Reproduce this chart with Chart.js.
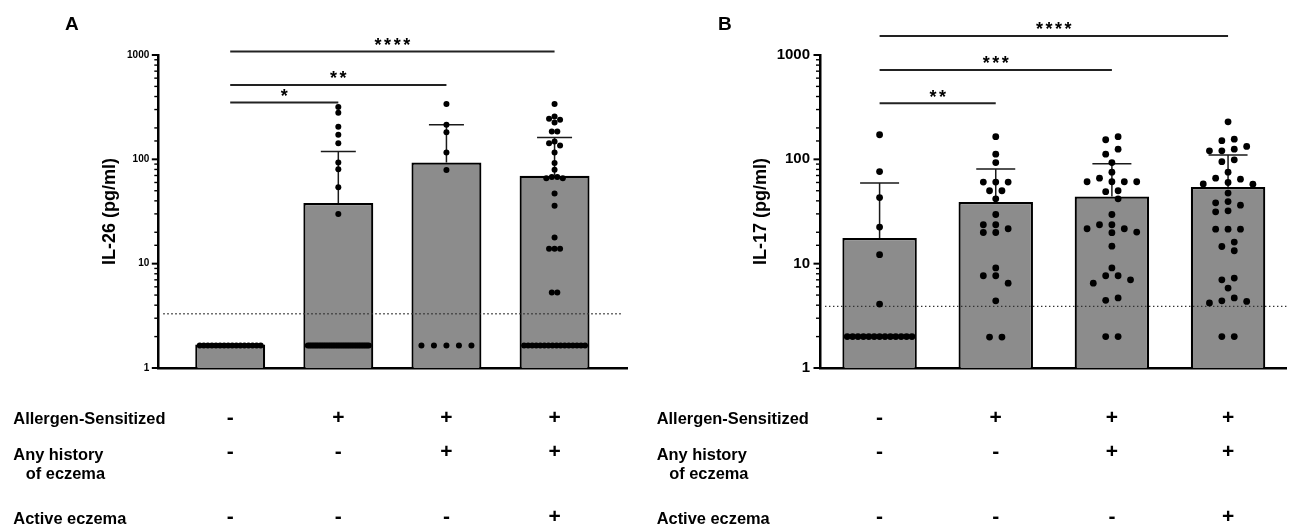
<!DOCTYPE html>
<html>
<head>
<meta charset="utf-8">
<script src="https://cdn.jsdelivr.net/npm/chart.js@4.4.0/dist/chart.umd.min.js"></script>
<style>
html,body{margin:0;padding:0;background:#fff;}
#wrap{position:relative;width:1290px;height:526px;overflow:hidden;background:#fff;}
canvas{position:absolute;top:0;}
</style>
</head>
<body>
<div id="wrap">
<canvas id="cA" width="640" height="526" style="left:0"></canvas>
<canvas id="cB" width="650" height="526" style="left:640px"></canvas>
</div>
<script>
// ---------------- DATA ----------------
const tableRows = [['Allergen-Sensitized'], ['Any history', 'of eczema'], ['Active eczema']];
const allergenSensitized = ['-', '+', '+', '+'];
const anyHistoryEczema   = ['-', '-', '+', '+'];
const activeEczema       = ['-', '-', '-', '+'];
const yTickValues = [1, 10, 100, 1000];

// Panel A: IL-26 (pg/ml)
const il26Means = [1.68, 38.1, 93, 69.5];
const il26SdTop = [null, 119, 215, 162];
const il26Lod = 3.31;
const il26G1 = [1.64, 1.64, 1.64, 1.64, 1.64, 1.64, 1.64, 1.64, 1.64, 1.64, 1.64, 1.64, 1.64, 1.64, 1.64, 1.64];
const il26G2 = [318, 280, 205, 172, 143, 93, 80.5, 54, 30,
  1.64, 1.64, 1.64, 1.64, 1.64, 1.64, 1.64, 1.64, 1.64, 1.64, 1.64, 1.64,
  1.64, 1.64, 1.64, 1.64, 1.64, 1.64, 1.64, 1.64, 1.64, 1.64, 1.64, 1.64,
  1.64, 1.64, 1.64, 1.64, 1.64, 1.64, 1.64, 1.64, 1.64, 1.64, 1.64, 1.64];
const il26G3 = [340, 215, 182, 116, 79, 1.64, 1.64, 1.64, 1.64, 1.64];
const il26G4 = [340, 257, 245, 240, 225, 185, 185, 148, 143, 135.5, 116, 92, 79.5,
  67.6, 67.6, 66, 66, 47, 36, 17.8, 13.9, 13.9, 13.9, 5.3, 5.3,
  1.64, 1.64, 1.64, 1.64, 1.64, 1.64, 1.64, 1.64, 1.64, 1.64, 1.64, 1.64, 1.64, 1.64, 1.64, 1.64];
const il26SigFrom = [0, 0, 0];
const il26SigTo = [1, 2, 3];
const il26SigText = ['*', '**', '****'];
const il26SigLevel = [350, 517, 1080];

// Panel B: IL-17 (pg/ml)
const il17Means = [17.6, 38.9, 44, 54.2];
const il17SdTop = [59.2, 81, 90.5, 110];
const il17Lod = 3.89;
const il17G1 = [172, 76.4, 43, 22.4, 12.2, 4.1, 2, 2, 2, 2, 2, 2, 2, 2, 2, 2, 2, 2, 2];
const il17G2 = [165, 112, 93, 60.5, 60.5, 60.5, 50, 50, 41.8, 29.6, 23.6, 23.6, 21.6, 19.9, 19.9,
  9.1, 7.66, 7.66, 6.5, 4.4, 1.98, 1.98];
const il17G3 = [165, 154, 125, 112, 93, 75.4, 66, 61, 61, 61, 61, 50, 49, 41.8, 29.6, 23.6, 23.6,
  21.6, 21.6, 20.1, 19.8, 14.7, 9.1, 7.66, 7.66, 7.0, 6.5, 4.7, 4.45, 2.0, 2.0];
const il17G4 = [229, 156, 151, 133, 125, 120.6, 120.6, 99, 95, 75.4, 66, 64.6, 60, 58, 57.8, 47.5,
  39.4, 38.3, 36.4, 32.1, 31.4, 21.4, 21.4, 21.4, 16.1, 14.6, 13.3, 7.28, 7.0, 5.84,
  4.7, 4.4, 4.35, 4.2, 2.0, 2.0];
const il17SigFrom = [0, 0, 0];
const il17SigTo = [1, 2, 3];
const il17SigText = ['**', '***', '****'];
const il17SigLevel = [345, 720, 1524];

// ---------------- RENDERING ----------------
const FONT = '"Liberation Sans", Arial, Helvetica, sans-serif';

function swarm(chart, groupsVals, p) {
  const xs = chart.scales.x, ys = chart.scales.y;
  const ppu = xs.getPixelForValue(1) - xs.getPixelForValue(0);
  const bars = chart.getDatasetMeta(0).data;
  const out = [];
  groupsVals.forEach((vals, g) => {
    const barW = bars[g].width;
    const counts = new Map();
    vals.forEach(v => counts.set(v, (counts.get(v) || 0) + 1));
    const placed = [];
    counts.forEach((k, v) => {
      if (k >= 5) {
        const step = Math.min(p.dupDx, (barW - 2 * p.r - 3) / (k - 1));
        for (let i = 0; i < k; i++) placed.push({ v, off: (i - (k - 1) / 2) * step });
      }
    });
    const rest = vals.filter(v => counts.get(v) < 5)
      .map(v => ({ v, py: ys.getPixelForValue(v) }))
      .sort((a, b) => a.py - b.py);
    const h = p.dx / 2;
    const free = [];
    rest.forEach(pt => {
      const near = free.filter(q => Math.abs(q.py - pt.py) < p.dy);
      let off = 0;
      for (let n = 0; n < 60; n++) {
        const cand = n === 0 ? 0 : (n % 2 ? -1 : 1) * Math.ceil(n / 2) * h;
        if (near.every(q => Math.abs(q.off - cand) >= p.dx - 1e-6)) { off = cand; break; }
      }
      pt.off = off;
      free.push(pt);
    });
    let comp = [];
    const flush = () => {
      if (comp.length) {
        const offs = comp.map(c => c.off);
        const c = (Math.min(...offs) + Math.max(...offs)) / 2;
        comp.forEach(q => { q.off -= c; });
      }
      comp = [];
    };
    free.forEach((pt, i) => {
      if (i > 0 && pt.py - free[i - 1].py >= p.dy) flush();
      comp.push(pt);
    });
    flush();
    placed.concat(free).forEach(pt => out.push({ x: g + pt.off / ppu, y: pt.v }));
  });
  return out;
}

function deco(cfg) {
  return {
    id: 'deco' + cfg.letter,
    afterDatasetDraw(chart, args) {
      if (args.index !== 0) return;
      const ctx = chart.ctx, ys = chart.scales.y, ca = chart.chartArea;
      const bars = chart.getDatasetMeta(0).data;
      ctx.save();
      ctx.strokeStyle = '#1a1a1a';
      ctx.lineWidth = 1.5;
      cfg.sdTop.forEach((t, g) => {
        if (t == null) return;
        const x = bars[g].x;
        const yT = ys.getPixelForValue(t), yM = ys.getPixelForValue(cfg.means[g]);
        ctx.beginPath();
        ctx.moveTo(x, yM); ctx.lineTo(x, yT);
        ctx.moveTo(x - cfg.capHalf, yT); ctx.lineTo(x + cfg.capHalf, yT);
        ctx.stroke();
      });
      const yl = ys.getPixelForValue(cfg.lod);
      ctx.strokeStyle = '#333';
      ctx.lineWidth = 1.3;
      ctx.setLineDash([1.4, 2.6]);
      ctx.beginPath();
      ctx.moveTo(ca.left + 5, yl); ctx.lineTo(ca.right - cfg.lodEndGap, yl);
      ctx.stroke();
      ctx.restore();
    },
    afterDraw(chart) {
      const ctx = chart.ctx, ys = chart.scales.y, xs = chart.scales.x, ca = chart.chartArea;
      ctx.save();
      ctx.strokeStyle = '#000';
      ys.ticks.forEach(t => {
        const y = ys.getPixelForValue(t.value);
        const major = yTickValues.some(v => Math.abs(v - t.value) < 1e-6);
        ctx.lineWidth = major ? 2 : 1.4;
        ctx.beginPath();
        ctx.moveTo(ca.left - (major ? 6.5 : 4), y);
        ctx.lineTo(ca.left, y);
        ctx.stroke();
      });
      ctx.fillStyle = '#000';
      ctx.font = 'bold 18px ' + FONT;
      ctx.textAlign = 'center';
      ctx.textBaseline = 'middle';
      ctx.save();
      ctx.translate(cfg.titleX, (ca.top + ca.bottom) / 2);
      ctx.rotate(-Math.PI / 2);
      ctx.fillText(cfg.title, 0, 0);
      ctx.restore();
      ctx.font = 'bold 19px ' + FONT;
      ctx.textAlign = 'left';
      ctx.textBaseline = 'alphabetic';
      ctx.fillText(cfg.letter, cfg.letterX, 30);
      ctx.strokeStyle = '#222';
      ctx.lineWidth = 2;
      cfg.sigFrom.forEach((a, i) => {
        const x1 = xs.getPixelForValue(a), x2 = xs.getPixelForValue(cfg.sigTo[i]);
        const y = ys.getPixelForValue(cfg.sigLevel[i]);
        ctx.beginPath(); ctx.moveTo(x1, y); ctx.lineTo(x2, y); ctx.stroke();
        ctx.font = 'bold 18px ' + FONT;
        ctx.letterSpacing = '2.5px';
        ctx.textAlign = 'center';
        ctx.fillText(cfg.sigText[i], (x1 + x2) / 2 + 1.25, y - 0.5);
        ctx.letterSpacing = '0px';
      });
      ctx.textAlign = 'left';
      ctx.textBaseline = 'alphabetic';
      ctx.font = 'bold 16.4px ' + FONT;
      const labelBase = [423.5, 460, 524];
      tableRows.forEach((lines, r) => {
        lines.forEach((txt, li) => {
          ctx.fillText(txt, cfg.tableX + (li ? 12.5 : 0), labelBase[r] + li * 19.3);
        });
      });
      const signRows = [allergenSensitized, anyHistoryEczema, activeEczema];
      const signBase = [423.8, 458, 523];
      ctx.font = 'bold 21px ' + FONT;
      ctx.textAlign = 'center';
      signRows.forEach((row, r) => {
        row.forEach((s, g) => {
          ctx.fillText(s, xs.getPixelForValue(g), signBase[r]);
        });
      });
      ctx.restore();
    }
  };
}

function makeChart(id, cfg) {
  const chart = new Chart(document.getElementById(id), {
    type: 'bar',
    data: {
      datasets: [
        {
          type: 'bar',
          data: cfg.means.map((m, i) => ({ x: i, y: m })),
          backgroundColor: '#8c8c8c',
          borderColor: '#000',
          borderWidth: 2.2,
          barPercentage: cfg.barPct,
          categoryPercentage: 1,
          order: 2
        },
        {
          type: 'scatter',
          data: [],
          backgroundColor: '#000',
          borderWidth: 0,
          pointRadius: cfg.r,
          pointHoverRadius: cfg.r,
          order: 1
        }
      ]
    },
    options: {
      responsive: false,
      animation: false,
      events: [],
      layout: { padding: { left: cfg.padL, right: cfg.padR, top: 55, bottom: 158 } },
      plugins: { legend: { display: false }, tooltip: { enabled: false } },
      scales: {
        x: {
          type: 'linear', min: cfg.xMin, max: cfg.xMax, offset: false,
          afterBuildTicks: s => { s.ticks = []; },
          afterFit: s => { s.height = 0; },
          ticks: { display: false },
          grid: { display: false, drawTicks: false },
          border: { display: true, color: '#000', width: 2.5 }
        },
        y: {
          type: 'logarithmic', min: 1, max: 1000,
          afterFit: s => { s.width = cfg.yW; },
          grid: { display: false, drawTicks: false },
          border: { display: true, color: '#000', width: 2.5 },
          ticks: {
            autoSkip: false,
            padding: cfg.tickPad,
            color: '#000',
            font: { family: FONT, size: cfg.tickFont, weight: 'bold' },
            callback: v => yTickValues.some(t => Math.abs(t - v) < 1e-6) ? String(v) : ''
          }
        }
      }
    },
    plugins: [deco(cfg)]
  });
  chart.data.datasets[1].data = swarm(chart, cfg.dots, cfg);
  chart.update('none');
  return chart;
}

makeChart('cA', {
  letter: 'A', letterX: 65, title: 'IL-26 (pg/ml)', titleX: 110, tableX: 13.3,
  means: il26Means, sdTop: il26SdTop, lod: il26Lod,
  dots: [il26G1, il26G2, il26G3, il26G4],
  sigFrom: il26SigFrom, sigTo: il26SigTo, sigText: il26SigText, sigLevel: il26SigLevel,
  padL: 118.3, padR: 13, yW: 40, xMin: -0.665, xMax: 3.67, barPct: 0.647,
  tickPad: 9, tickFont: 10, capHalf: 17.5, lodEndGap: 5,
  r: 3, dx: 5.5, dy: 5.5, dupDx: 12.5
});

makeChart('cB', {
  letter: 'B', letterX: 78, title: 'IL-17 (pg/ml)', titleX: 121.5, tableX: 16.7,
  means: il17Means, sdTop: il17SdTop, lod: il17Lod,
  dots: [il17G1, il17G2, il17G3, il17G4],
  sigFrom: il17SigFrom, sigTo: il17SigTo, sigText: il17SigText, sigLevel: il17SigLevel,
  padL: 130, padR: 0, yW: 50, xMin: -0.513, xMax: 3.504, barPct: 0.641,
  tickPad: 10, tickFont: 15, capHalf: 19.5, lodEndGap: 0,
  r: 3.4, dx: 12.5, dy: 7.5, dupDx: 12.5
});
</script>
</body>
</html>
